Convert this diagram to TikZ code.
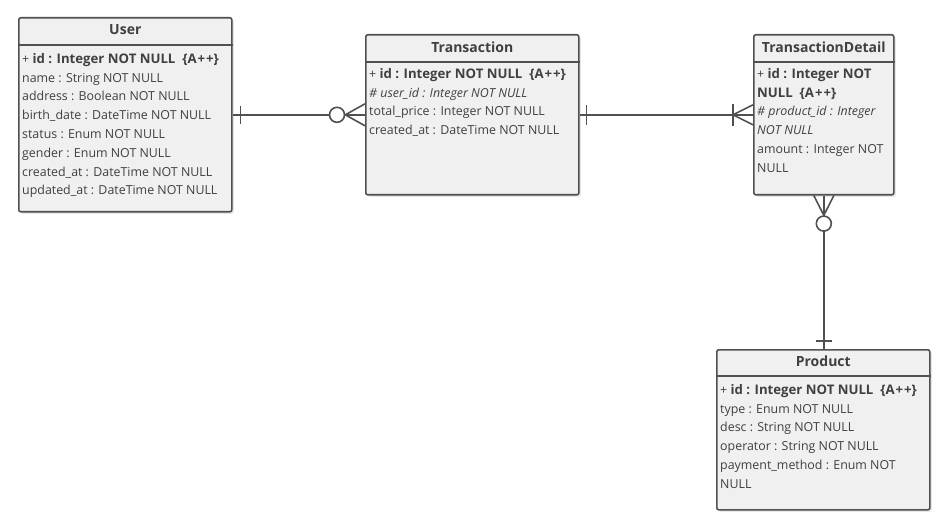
\documentclass[tikz,border=0pt]{standalone}
\usepackage{fontspec}
\setmainfont{Open Sans}
\usetikzlibrary{positioning,shadows}
\definecolor{erline}{HTML}{505050}
\definecolor{erfill}{HTML}{F0F0F0}
\definecolor{ertext}{HTML}{404040}
\newcommand{\erkey}[1]{{\fontsize{13.2}{18.8}\selectfont\bfseries #1}}
\newcommand{\erauto}{\{A\kern1pt+\kern1pt+\}}

\begin{document}
\begin{tikzpicture}[x=1pt,y=-1pt,
  entity/.style={draw=erline,fill=erfill,line width=1.6pt,rounded corners=2pt,anchor=north west,inner sep=0pt,
    drop shadow={opacity=0.2,shadow xshift=2pt,shadow yshift=-2pt}},
  etitle/.style={font=\fontsize{14}{16}\selectfont\bfseries,text=ertext,inner sep=0pt},
  attrs/.style={font=\fontsize{12.4}{18.8}\selectfont,text=ertext,align=left,anchor=north west,inner sep=0pt},
  sep/.style={draw=erline,line width=1.6pt},
  rel/.style={draw=erline,line width=1.6pt},
  ring/.style={circle,draw=erline,fill=white,line width=1.6pt,minimum size=15pt,inner sep=0pt}
]
\useasboundingbox (0,0) rectangle (950,529);

% entities
\node[entity,minimum width=213pt,minimum height=194pt] (user) at (18,17) {};
\node[etitle] (usertitle) at ([yshift=-13pt]user.north) {User};
\draw[sep] ([yshift=-28pt]user.north west) -- ([yshift=-28pt]user.north east);
\node[attrs] (userattrs) at ([xshift=4pt,yshift=-36pt]user.north west)
  {+ \erkey{id : Integer NOT NULL\ \ \erauto}\\name : String NOT NULL\\address : Boolean NOT NULL\\
   birth\_date : DateTime NOT NULL\\status : Enum NOT NULL\\gender : Enum NOT NULL\\
   created\_at : DateTime NOT NULL\\updated\_at : DateTime NOT NULL};

\node[entity,minimum width=213pt,minimum height=160pt] (trans) at (365,34) {};
\node[etitle] (transtitle) at ([yshift=-13pt]trans.north) {Transaction};
\draw[sep] ([yshift=-28pt]trans.north west) -- ([yshift=-28pt]trans.north east);
\node[attrs] (transattrs) at ([xshift=4pt,yshift=-34pt]trans.north west)
  {+ \erkey{id : Integer NOT NULL\ \ \erauto}\\\textit{\# user\_id : Integer NOT NULL}\\
   total\_price : Integer NOT NULL\\created\_at : DateTime NOT NULL};

\node[entity,minimum width=140pt,minimum height=160pt] (detail) at (753,34) {};
\node[etitle] (detailtitle) at ([yshift=-13pt]detail.north) {TransactionDetail};
\draw[sep] ([yshift=-28pt]detail.north west) -- ([yshift=-28pt]detail.north east);
\node[attrs] (detailattrs) at ([xshift=4pt,yshift=-34pt]detail.north west)
  {+ \erkey{id : Integer NOT}\\\erkey{NULL\ \ \erauto}\\\textit{\# product\_id : Integer}\\
   \textit{NOT NULL}\\amount : Integer NOT\\NULL};

\node[entity,minimum width=213pt,minimum height=160pt] (product) at (716,349) {};
\node[etitle] (producttitle) at ([yshift=-12pt]product.north) {Product};
\draw[sep] ([yshift=-27pt]product.north west) -- ([yshift=-27pt]product.north east);
\node[attrs] (productattrs) at ([xshift=4pt,yshift=-35pt]product.north west)
  {+ \erkey{id : Integer NOT NULL\ \ \erauto}\\type : Enum NOT NULL\\desc : String NOT NULL\\
   operator : String NOT NULL\\payment\_method : Enum NOT\\NULL};

% User -- Transaction
\draw[rel] (user.east) -- (trans.west);
\draw[rel] ([xshift=8pt,yshift=9pt]user.east) -- ([xshift=8pt,yshift=-9pt]user.east);
\node[ring] (ringtrans) at ([xshift=-28pt]trans.west) {};
\draw[rel] ([yshift=11pt]trans.west) -- (ringtrans.east) -- ([yshift=-11pt]trans.west);

% Transaction -- TransactionDetail
\draw[rel] (trans.east) -- (detail.west);
\draw[rel] ([xshift=7pt,yshift=10pt]trans.east) -- ([xshift=7pt,yshift=-10pt]trans.east);
\draw[rel] ([xshift=-20pt,yshift=11pt]detail.west) -- ([xshift=-20pt,yshift=-11pt]detail.west);
\draw[rel] ([yshift=10pt]detail.west) -- ([xshift=-20pt]detail.west) -- ([yshift=-10pt]detail.west);

% TransactionDetail -- Product
\draw[rel] (detail.south) -- (detail.south |- product.north);
\node[ring] (ringdetail) at ([yshift=-28pt]detail.south) {};
\draw[rel] ([xshift=-10pt]detail.south) -- (ringdetail.north) -- ([xshift=10pt]detail.south);
\draw[rel] ([xshift=-8pt,yshift=8pt]detail.south |- product.north) -- ([xshift=8pt,yshift=8pt]detail.south |- product.north);
\end{tikzpicture}
\end{document}
